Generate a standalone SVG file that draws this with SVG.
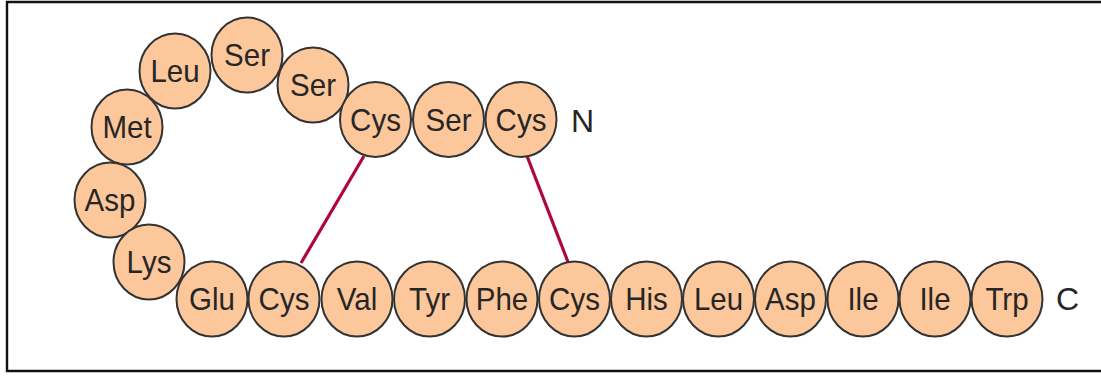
<svg xmlns="http://www.w3.org/2000/svg" width="1101" height="376" viewBox="0 0 1101 376">
  <style>
    .res ellipse { fill: #FCC79A; stroke: #333333; stroke-width: 2; }
    .res text { font-family: "Liberation Sans", Arial, sans-serif; font-size: 29.5px; fill: #262626; text-anchor: middle; transform: scale(1, 1.07); }
    .term { font-family: "Liberation Sans", Arial, sans-serif; font-size: 32px; fill: #262626; }
    .ss { stroke: #B0063A; stroke-width: 3.2; stroke-linecap: butt; fill: none; }
  </style>

  <rect width="1101" height="376" fill="#ffffff"/>
  <!-- frame: open on the right -->
  <path d="M1101,2 H7 V371 H1101" fill="none" stroke="#111111" stroke-width="2.4"/>

  <!-- disulfide bonds -->
  <g id="connectors">
    <line class="ss" x1="364" y1="156" x2="301" y2="263"/>
    <line class="ss" x1="527" y1="156" x2="568" y2="262"/>
  </g>

  <!-- loop residues -->
  <g id="r-ser-top" class="res" transform="translate(247,55)"><ellipse rx="35.5" ry="37.5"/><text y="10.3">Ser</text></g>
  <g id="r-leu-loop" class="res" transform="translate(175,71)"><ellipse rx="35.5" ry="37.5"/><text y="10.3">Leu</text></g>
  <g id="r-ser-2" class="res" transform="translate(313,85)"><ellipse rx="35.5" ry="37.5"/><text y="10.3">Ser</text></g>
  <g id="r-met" class="res" transform="translate(127,127)"><ellipse rx="35.5" ry="37.5"/><text y="10.3">Met</text></g>
  <g id="r-asp-loop" class="res" transform="translate(110,200)"><ellipse rx="35.5" ry="37.5"/><text y="10.3">Asp</text></g>
  <g id="r-lys" class="res" transform="translate(149,262)"><ellipse rx="35.5" ry="37.5"/><text y="10.3">Lys</text></g>

  <!-- N-terminal strand -->
  <g id="r-cys-a" class="res" transform="translate(375.5,119.5)"><ellipse rx="35.5" ry="37.5"/><text y="10.3">Cys</text></g>
  <g id="r-ser-n" class="res" transform="translate(448.5,119.5)"><ellipse rx="35.5" ry="37.5"/><text y="10.3">Ser</text></g>
  <g id="r-cys-n" class="res" transform="translate(521,119.5)"><ellipse rx="35.5" ry="37.5"/><text y="10.3">Cys</text></g>
  <text id="label-n" class="term" x="571" y="132">N</text>

  <!-- C-terminal strand -->
  <g id="r-glu" class="res" transform="translate(212,299)"><ellipse rx="35.5" ry="37.5"/><text y="10.3">Glu</text></g>
  <g id="r-cys-b" class="res" transform="translate(284,299)"><ellipse rx="35.5" ry="37.5"/><text y="10.3">Cys</text></g>
  <g id="r-val" class="res" transform="translate(357,299)"><ellipse rx="35.5" ry="37.5"/><text y="10.3">Val</text></g>
  <g id="r-tyr" class="res" transform="translate(429.5,299)"><ellipse rx="35.5" ry="37.5"/><text y="10.3">Tyr</text></g>
  <g id="r-phe" class="res" transform="translate(502,299)"><ellipse rx="35.5" ry="37.5"/><text y="10.3">Phe</text></g>
  <g id="r-cys-c" class="res" transform="translate(574.5,299)"><ellipse rx="35.5" ry="37.5"/><text y="10.3">Cys</text></g>
  <g id="r-his" class="res" transform="translate(646.5,299)"><ellipse rx="35.5" ry="37.5"/><text y="10.3">His</text></g>
  <g id="r-leu" class="res" transform="translate(718.5,299)"><ellipse rx="35.5" ry="37.5"/><text y="10.3">Leu</text></g>
  <g id="r-asp" class="res" transform="translate(790.5,299)"><ellipse rx="35.5" ry="37.5"/><text y="10.3">Asp</text></g>
  <g id="r-ile-1" class="res" transform="translate(863,299)"><ellipse rx="35.5" ry="37.5"/><text y="10.3">Ile</text></g>
  <g id="r-ile-2" class="res" transform="translate(935,299)"><ellipse rx="35.5" ry="37.5"/><text y="10.3">Ile</text></g>
  <g id="r-trp" class="res" transform="translate(1007,299)"><ellipse rx="35.5" ry="37.5"/><text y="10.3">Trp</text></g>
  <text id="label-c" class="term" x="1056" y="310">C</text>
</svg>
